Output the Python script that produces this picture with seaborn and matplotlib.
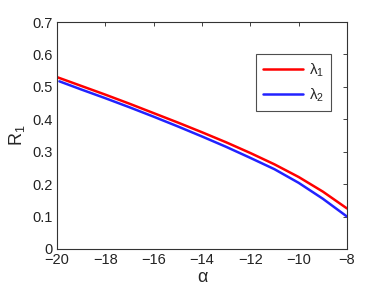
import numpy as np
import pandas as pd
import seaborn as sns
import matplotlib
matplotlib.use('Agg')
import matplotlib.pyplot as plt

# valores
alpha_1 = [-20, -19, -18, -17, -16, -15, -14, -13, -12, -11, -10, -9, -8]
r1_lambda1 = [0.530, 0.503, 0.476, 0.448, 0.419, 0.390, 0.360, 0.329, 0.296, 0.261, 0.222, 0.177, 0.125]
alpha_2 = [-19.9, -19, -18, -17, -16, -15, -14, -13, -12, -11, -10, -9, -8]
r1_lambda2 = [0.517, 0.492, 0.465, 0.437, 0.408, 0.378, 0.347, 0.315, 0.281, 0.246, 0.204, 0.155, 0.100]

dados = pd.concat([
    pd.DataFrame({'alpha': alpha_1, 'R1': r1_lambda1, 'serie': r'$\lambda_1$'}),
    pd.DataFrame({'alpha': alpha_2, 'R1': r1_lambda2, 'serie': r'$\lambda_2$'}),
])

sns.set_style('white')
plt.rcParams['font.family'] = ['Liberation Sans', 'DejaVu Sans']
plt.rcParams['mathtext.fontset'] = 'custom'
plt.rcParams['mathtext.rm'] = 'Liberation Sans'
plt.rcParams['mathtext.it'] = 'Liberation Sans'

fig = plt.figure(figsize=(3.82, 2.88), dpi=100)
ax = fig.add_axes([57 / 382, 1 - 249 / 288, 290 / 382, 227 / 288])

sns.lineplot(data=dados, x='alpha', y='R1', hue='serie', palette=['#ff0000', '#2222ff'],
             linewidth=1.8, ax=ax, sort=False)

ax.set_xlim(-20, -8)
ax.set_ylim(0, 0.7)
ax.set_xticks(np.arange(-20, -7, 2))
ax.set_yticks(np.arange(0, 0.71, 0.1))
ax.set_xticklabels(['\u2212' + str(abs(v)) for v in range(-20, -7, 2)])
ax.set_yticklabels(['0'] + ['%.1f' % v for v in np.arange(0.1, 0.71, 0.1)])
ax.tick_params(direction='in', length=3, width=0.6, top=True, right=True,
               labelsize=10.5, colors='#222222', pad=3)
for s in ax.spines.values():
    s.set_color('#333333')
    s.set_linewidth(0.8)

ax.set_xlabel('α', fontsize=13, labelpad=1)
ax.set_ylabel('R$_1$', fontsize=13, labelpad=4)

leg = ax.legend(loc='upper left', bbox_to_anchor=(0.686, 0.857), fontsize=11,
                frameon=True, fancybox=False, handlelength=2.6, borderpad=0.45,
                labelspacing=0.5, handletextpad=0.4, borderaxespad=0)
leg.get_frame().set_edgecolor('#222222')
leg.get_frame().set_linewidth(0.8)

plt.savefig('out.png', dpi=100)
